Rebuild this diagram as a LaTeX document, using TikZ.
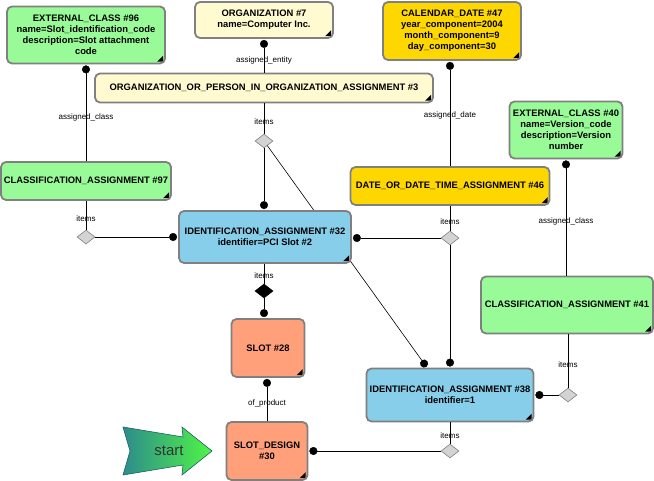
\documentclass[tikz,border=0pt]{standalone}
\usepackage{fontspec}
\setsansfont{Liberation Sans}
\usetikzlibrary{positioning}
\usetikzlibrary{shapes.geometric}
\usetikzlibrary{arrows.meta}
\definecolor{boxgray}{RGB}{128,128,128}
\definecolor{classgreen}{RGB}{152,251,152}
\definecolor{orgyellow}{RGB}{255,250,208}
\definecolor{dategold}{RGB}{255,215,0}
\definecolor{idblue}{RGB}{135,206,235}
\definecolor{slotsalmon}{RGB}{255,160,122}
\definecolor{itemgray}{RGB}{211,211,211}
\definecolor{startteal}{RGB}{45,140,140}
\definecolor{startgreen}{RGB}{80,245,70}
\tikzset{
line width=0.8pt, % All connectors about one pixel
my box/.style={draw=boxgray,line width=1.8pt,rounded corners=5pt,align=center,inner sep=1pt,
  font=\sffamily\bfseries\fontsize{9.4}{11}\selectfont,
  path picture={\fill[black,sharp corners] (path picture bounding box.south east) ++(-1.8pt,1.8pt)
    -- ++(-6pt,0pt) -- ++(6pt,6pt) -- cycle;}},
my size/.style 2 args={minimum width=#1,minimum height=#2},
my class/.style={my box,fill=classgreen},
my org/.style={my box,fill=orgyellow},
my date/.style={my box,fill=dategold},
my ident/.style={my box,fill=idblue},
my slot/.style={my box,fill=slotsalmon},
my items/.style={diamond,draw=boxgray,fill=itemgray,line width=0.6pt,minimum width=18pt,minimum height=14pt,inner sep=0pt},
my part/.style={my items,draw=black,fill=black},
my ref/.style={-{Circle[length=8pt]},shorten >=1pt},
my lbl/.style={font=\sffamily\fontsize{8}{8}\selectfont,inner sep=0pt},
my start/.style={draw=startteal!70!black,line width=0.6pt,left color=startteal,right color=startgreen}
}
\begin{document}
\begin{tikzpicture}[x=1pt,y=-1pt]
\useasboundingbox (0,0) rectangle (654,481);
% entities
\node[my class,my size={158pt}{57pt}] (ec96) at (86,35) {EXTERNAL\_CLASS \#96\\name=Slot\_identification\_code\\description=Slot attachment\\code};
\node[my org,my size={138pt}{36pt}] (org7) at (264,20) {ORGANIZATION \#7\\name=Computer Inc.};
\node[my org,my size={338pt}{29pt}] (oop3) at (264,88) {ORGANIZATION\_OR\_PERSON\_IN\_ORGANIZATION\_ASSIGNMENT \#3};
\node[my date,my size={138pt}{58pt}] (cd47) at (452,31) {CALENDAR\_DATE \#47\\year\_component=2004\\month\_component=9\\day\_component=30};
\node[my class,my size={170pt}{38pt}] (ca97) at (86,181) {CLASSIFICATION\_ASSIGNMENT \#97};
\node[my date,my size={199pt}{38pt}] (dt46) at (450,186) {DATE\_OR\_DATE\_TIME\_ASSIGNMENT \#46};
\node[my class,my size={113pt}{57pt}] (ec40) at (566,130) {EXTERNAL\_CLASS \#40\\name=Version\_code\\description=Version\\number};
\node[my class,my size={172pt}{57pt}] (ca41) at (567,305) {CLASSIFICATION\_ASSIGNMENT \#41};
\node[my ident,my size={167pt}{53pt}] (ia38) at (450,395) {IDENTIFICATION\_ASSIGNMENT \#38\\identifier=1};
\node[my slot,my size={73pt}{58pt}] (slot28) at (268,348) {SLOT \#28};
\node[my slot,my size={81pt}{58pt}] (sd30) at (267,451) {SLOT\_DESIGN\\\#30};
% aggregates
\node[my items] (d97) at (86,237) {};
\node[my items] (d3) at (264,141) {};
\node[my items] (d46) at (450,238) {};
\node[my part] (d32) at (264,291) {};
\node[my items] (d41) at (568,395) {};
\node[my items] (d38) at (450,451) {};
% this one runs behind #32
\draw[my ref,line width=0.6pt] (d3) -- ([xshift=-23pt]ia38.north);
\node[my ident,my size={172pt}{52pt}] (ia32) at (265,237) {IDENTIFICATION\_ASSIGNMENT \#32\\identifier=PCI Slot \#2};
% references
\draw[my ref] (ec96.south |- ca97.north) -- node[my lbl,pos=.45]{assigned\_class} (ec96.south);
\draw[my ref] (oop3.north) -- node[my lbl,pos=.36]{assigned\_entity} (org7.south);
\draw[my ref] (dt46.north) -- node[my lbl,pos=.48]{assigned\_date} (dt46.north |- cd47.south);
\draw[my ref] (ec40.south |- ca41.north) -- node[my lbl,pos=.47]{assigned\_class} (ec40.south);
\draw (ca97.south -| d97) -- node[my lbl,pos=.6]{items} (d97);
\draw[my ref] (d97) -- (ia32.west |- d97);
\draw (oop3.south) -- node[my lbl,pos=.6]{items} (d3);
\draw[my ref] (d3) -- (d3 |- ia32.north);
\draw (dt46.south) -- node[my lbl,pos=.63]{items} (d46);
\draw[my ref] (d46) -- (ia32.east |- d46);
\draw[my ref] (d46) -- (d46 |- ia38.north);
\draw (ia32.south -| d32) -- node[my lbl,pos=.6]{items} (d32);
\draw[my ref] (d32) -- (d32 |- slot28.north);
\draw[my ref] (sd30.north) -- node[my lbl,pos=.42]{of\_product} (sd30.north |- slot28.south);
\draw (ca41.south -| d41) -- node[my lbl,pos=.56]{items} (d41);
\draw[my ref] (d41) -- (ia38.east |- d41);
\draw (ia38.south) -- node[my lbl,pos=.6]{items} (d38);
\draw[my ref] (d38) -- (sd30.east |- d38);
% start marker
\path[my start] (123,427) -- (183,437) -- (182,427) -- (212,451) -- (182,475) -- (183,465) -- (123,475) -- (130,451) -- cycle;
\node[font=\sffamily\fontsize{15}{16}\selectfont,text=black!80,inner sep=0pt] (start) at (169,451) {start};
\end{tikzpicture}
\end{document}
